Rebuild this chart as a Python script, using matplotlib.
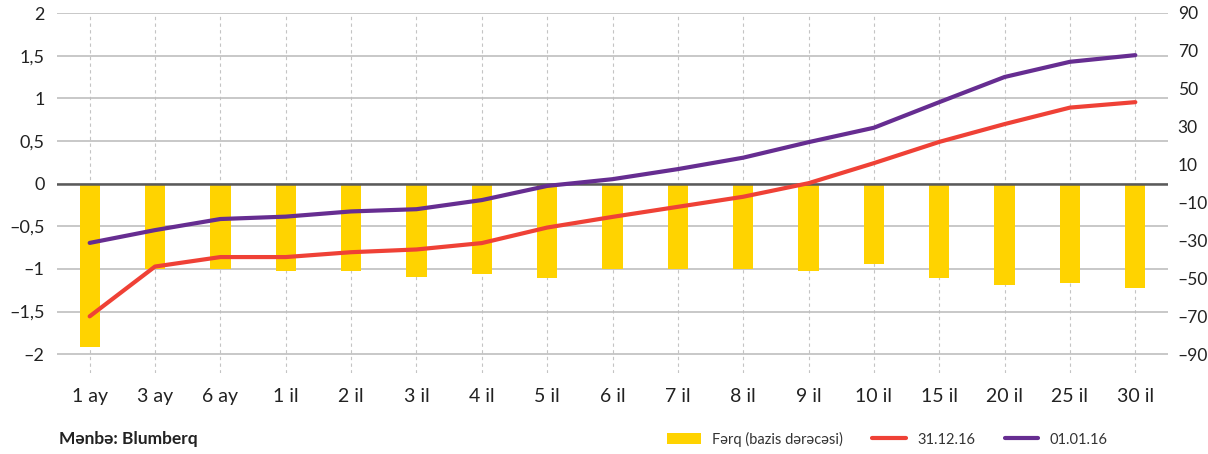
import matplotlib
matplotlib.use("Agg")
import matplotlib.pyplot as plt
import numpy as np

# data
categories = ["1 ay", "3 ay", "6 ay", "1 il", "2 il", "3 il", "4 il", "5 il", "6 il",
              "7 il", "8 il", "9 il", "10 il", "15 il", "20 il", "25 il", "30 il"]
ferq = [-86, -45, -45, -46, -46, -49, -47.5, -50, -45,
        -45, -45, -46, -42.5, -50, -53.5, -52.5, -55]
yield_311216 = [-1.556, -0.972, -0.861, -0.861, -0.804, -0.772, -0.697, -0.515, -0.39,
                -0.272, -0.154, 0.005, 0.24, 0.489, 0.698, 0.891, 0.955]
yield_010116 = [-0.695, -0.545, -0.415, -0.387, -0.326, -0.30, -0.193, -0.027, 0.052,
                0.17, 0.304, 0.486, 0.655, 0.955, 1.25, 1.428, 1.506]

YELLOW = "#FFD300"
RED = "#EF4136"
PURPLE = "#662D91"
GRID = "#BFBFBF"
TEXT = "#222222"
DASH = "\u2013"

plt.rcParams["font.family"] = ["Lato", "DejaVu Sans"]

fig = plt.figure(figsize=(12.08, 4.54), dpi=100)
ax = fig.add_axes([57 / 1208, 1 - 373 / 454, (1168 - 57) / 1208, 360 / 454])
ax2 = ax.twinx()
ax3 = ax.twinx()

x = np.arange(len(categories))
lo, hi = -2.22, 2.0
k = 45  # right axis units per left axis unit

# base axes: grid and left labels
left_ticks = np.arange(-2, 2.01, 0.5)
ax.set_xlim(-0.5, len(categories) - 0.5)
ax.set_ylim(lo, hi)
ax.set_yticks(left_ticks)
ax.set_yticklabels([f"{v:g}".replace(".", ",").replace("-", DASH) for v in left_ticks])
ax.set_xticks(x)
ax.set_xticklabels(categories)
ax.grid(axis="y", color=GRID, linewidth=1.2)
ax.grid(axis="x", color="#C4C4C4", linewidth=0.8, linestyle=(0, (3, 3)))
ax.tick_params(axis="y", length=0, pad=9, labelsize=13, labelcolor=TEXT)
ax.tick_params(axis="x", length=0, pad=11, labelsize=14, labelcolor=TEXT)

# bars on the right scale
right_ticks = list(range(-90, 91, 20))
ax2.set_ylim(lo * k, hi * k)
ax2.bar(x, ferq, width=0.31, color=YELLOW, zorder=2, label="Fərq (bazis dərəcəsi)")
ax2.axhline(0, color="#5A5A5A", linewidth=1.8, zorder=3)
ax2.set_yticks(right_ticks)
ax2.set_yticklabels([str(v).replace("-", DASH) for v in right_ticks])
ax2.tick_params(axis="y", length=0, pad=7, labelsize=12.5, labelcolor=TEXT)

# lines on the left scale
ax3.set_ylim(lo, hi)
ax3.plot(x, yield_311216, color=RED, linewidth=3, solid_capstyle="round", label="31.12.16")
ax3.plot(x, yield_010116, color=PURPLE, linewidth=3, solid_capstyle="round", label="01.01.16")
ax3.set_yticks([])

for a in (ax, ax2, ax3):
    for s in a.spines.values():
        s.set_visible(False)

handles = ax2.get_legend_handles_labels()[0] + ax3.get_legend_handles_labels()[0]
labels = ax2.get_legend_handles_labels()[1] + ax3.get_legend_handles_labels()[1]
fig.legend(handles, labels, loc="center left", bbox_to_anchor=(667 / 1208, 1 - 439 / 454),
           ncol=3, frameon=False, fontsize=10.5, handlelength=2.3, handleheight=0.7,
           handletextpad=0.8, columnspacing=2.0, borderpad=0, borderaxespad=0,
           labelcolor="#333333")

fig.text(59 / 1208, 1 - 439 / 454, "Mənbə: Blumberq", fontsize=12.5, fontweight="bold",
         color=TEXT, va="center", ha="left")

fig.savefig("out.png", dpi=100)
